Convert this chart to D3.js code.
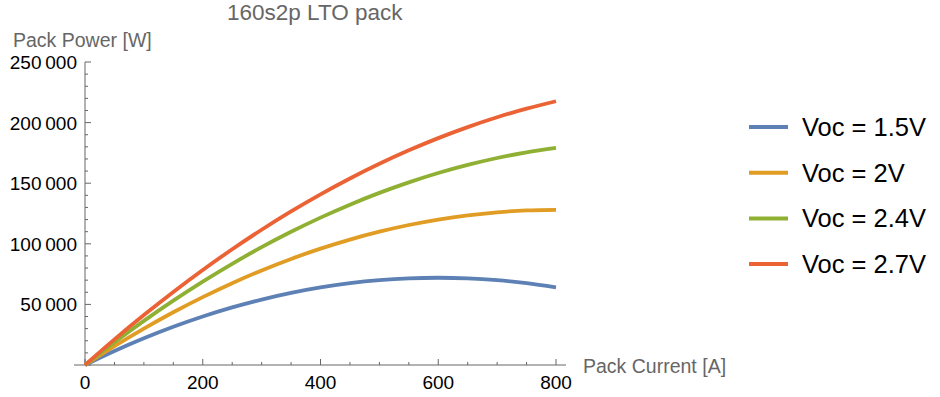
<!DOCTYPE html>
<html>
<head>
<meta charset="utf-8">
<script src="https://cdn.jsdelivr.net/npm/d3@7"></script>
<style>
  body { margin: 0; background: #fff; }
  text { font-family: "Liberation Sans", Arial, sans-serif; }
</style>
</head>
<body>
<div id="chart"></div>
<script>
// pack current [A]
var current = [0, 50, 100, 150, 200, 250, 300, 350, 400, 450, 500, 550, 600, 650, 700, 750, 800];

// pack power [W] for each cell open-circuit voltage
var powerVoc15 = [0, 11500, 22000, 31500, 40000, 47500, 54000, 59500, 64000, 67500, 70000, 71500, 72000, 71500, 70000, 67500, 64000];
var powerVoc20 = [0, 15500, 30000, 43500, 56000, 67500, 78000, 87500, 96000, 103500, 110000, 115500, 120000, 123500, 126000, 127500, 128000];
var powerVoc24 = [0, 18700, 36400, 53100, 68800, 83500, 97200, 109900, 121600, 132300, 142000, 150700, 158400, 165100, 170800, 175500, 179200];
var powerVoc27 = [0, 21100, 41200, 60300, 78400, 95500, 111600, 126700, 140800, 153900, 166000, 177100, 187200, 196300, 204400, 211500, 217600];

var seriesNames = ["Voc = 1.5V", "Voc = 2V", "Voc = 2.4V", "Voc = 2.7V"];
var seriesColors = ["#5e81b5", "#e19c24", "#8fb032", "#eb6235"];

var xTicks = [0, 200, 400, 600, 800];
var yTicks = [50000, 100000, 150000, 200000, 250000];

var series = [powerVoc15, powerVoc20, powerVoc24, powerVoc27].map(function (vals, i) {
    return {
        name: seriesNames[i],
        color: seriesColors[i],
        values: vals.map(function (p, j) { return { i: current[j], p: p }; })
    };
});

var W = 940, H = 397;
var svg = d3.select("#chart").append("svg")
    .attr("width", W)
    .attr("height", H);

// scales
var x = d3.scaleLinear().domain([0, 800]).range([85, 556]);
var y = d3.scaleLinear().domain([0, 250000]).range([365, 62]);

var axisColor = "#666";
var labelColor = "#666";

// x axis line
svg.append("line")
    .attr("x1", 74).attr("x2", 566)
    .attr("y1", y(0)).attr("y2", y(0))
    .attr("stroke", axisColor).attr("stroke-width", 1);

// y axis line
svg.append("line")
    .attr("x1", x(0)).attr("x2", x(0))
    .attr("y1", y(250000)).attr("y2", y(0))
    .attr("stroke", axisColor).attr("stroke-width", 1);

// x ticks (minor every 50, major every 200)
d3.range(0, 801, 50).forEach(function (v) {
    var major = v % 200 === 0;
    svg.append("line")
        .attr("x1", x(v)).attr("x2", x(v))
        .attr("y1", y(0)).attr("y2", y(0) - (major ? 6 : 3))
        .attr("stroke", axisColor).attr("stroke-width", 1);
});

// y ticks (minor every 10000, major every 50000)
d3.range(0, 250001, 10000).forEach(function (v) {
    var major = v % 50000 === 0;
    svg.append("line")
        .attr("x1", x(0)).attr("x2", x(0) + (major ? 6 : 3))
        .attr("y1", y(v)).attr("y2", y(v))
        .attr("stroke", axisColor).attr("stroke-width", 1);
});

// tick labels
svg.selectAll(".xlab").data(xTicks).enter().append("text")
    .attr("x", function (d) { return x(d); })
    .attr("y", 389)
    .attr("text-anchor", "middle")
    .attr("font-size", 19)
    .attr("fill", "#000")
    .text(function (d) { return d; });

var fmt = function (d) { return d3.format(",")(d).replace(",", "\u2009"); };
svg.selectAll(".ylab").data(yTicks).enter().append("text")
    .attr("x", 77)
    .attr("y", function (d) { return y(d) + 7; })
    .attr("text-anchor", "end")
    .attr("font-size", 19)
    .attr("fill", "#000")
    .text(fmt);

// axis labels and title
svg.append("text")
    .attr("x", 13).attr("y", 47)
    .attr("font-size", 19.5)
    .attr("fill", labelColor)
    .text("Pack Power [W]");

svg.append("text")
    .attr("x", 583).attr("y", 373)
    .attr("font-size", 19.5)
    .attr("fill", labelColor)
    .text("Pack Current [A]");

svg.append("text")
    .attr("x", 227).attr("y", 20)
    .attr("font-size", 22.5)
    .attr("fill", labelColor)
    .text("160s2p LTO pack");

// curves
var line = d3.line()
    .x(function (d) { return x(d.i); })
    .y(function (d) { return y(d.p); })
    .curve(d3.curveNatural);

svg.selectAll(".curve").data(series).enter().append("path")
    .attr("d", function (d) { return line(d.values); })
    .attr("fill", "none")
    .attr("stroke", function (d) { return d.color; })
    .attr("stroke-width", 3.8);

// legend
var legend = svg.selectAll(".leg").data(series).enter().append("g")
    .attr("transform", function (d, i) { return "translate(749," + (127 + i * 45.7) + ")"; });

legend.append("line")
    .attr("x1", 0).attr("x2", 39)
    .attr("y1", 0).attr("y2", 0)
    .attr("stroke", function (d) { return d.color; })
    .attr("stroke-width", 4);

legend.append("text")
    .attr("x", 53).attr("y", 9)
    .attr("font-size", 25.5)
    .attr("fill", "#000")
    .text(function (d) { return d.name; });
</script>
</body>
</html>
